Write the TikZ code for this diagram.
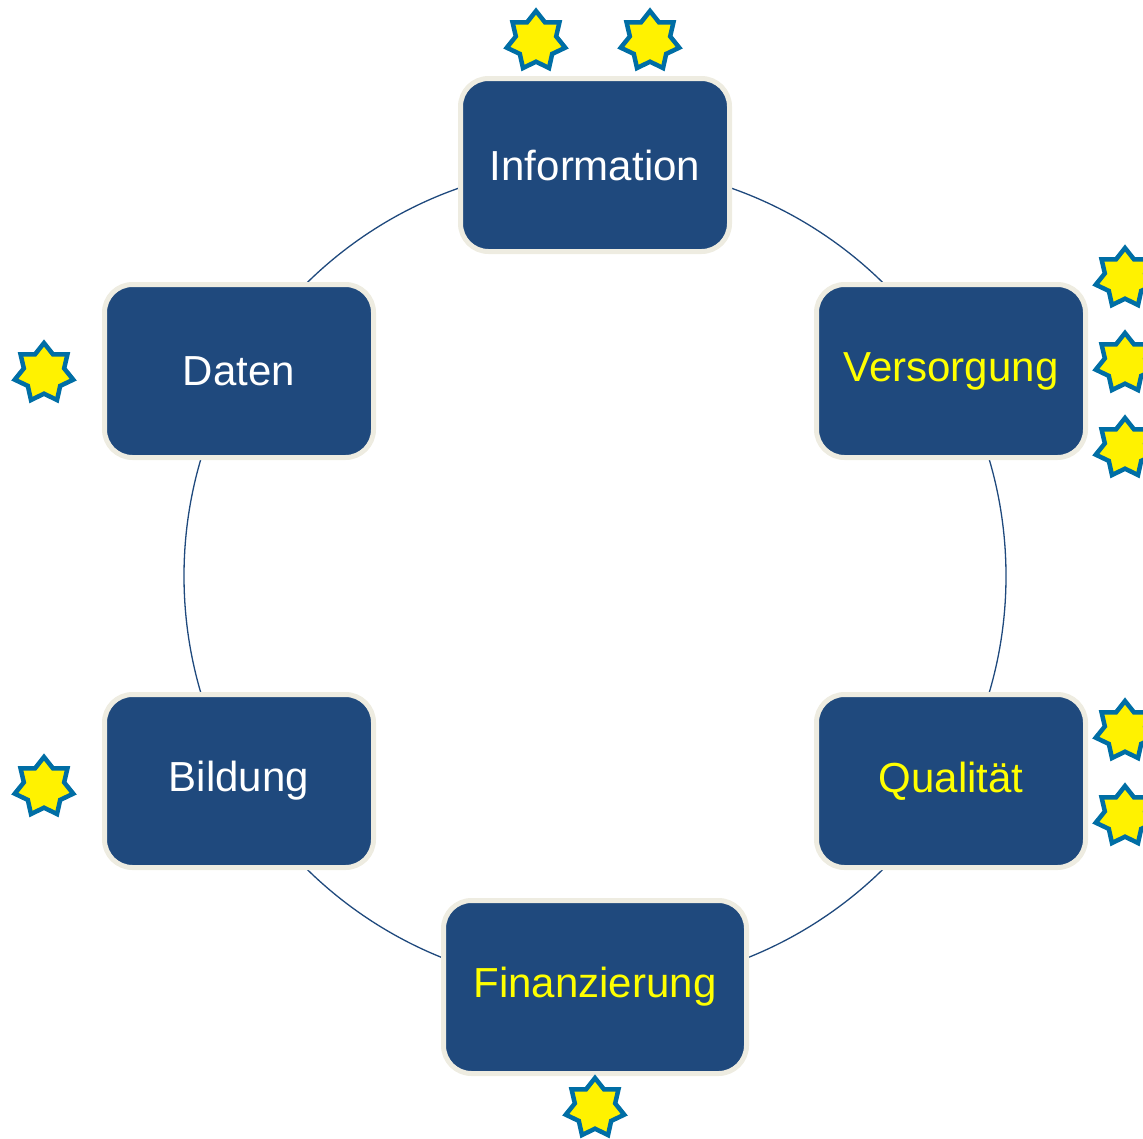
\documentclass[tikz,border=0pt]{standalone}
\usepackage{fontspec}
\setmainfont{Liberation Sans}
\usetikzlibrary{shapes.geometric}
\definecolor{boxblue}{RGB}{31,73,125}
\definecolor{boxrim}{RGB}{238,236,225}
\definecolor{starrim}{RGB}{0,110,165}
\definecolor{txtyellow}{RGB}{255,255,0}
\tikzset{
  topic/.style={rectangle, rounded corners=28pt, draw=boxrim, line width=5pt,
    fill=boxblue, minimum width=269pt, minimum height=173pt, inner sep=0pt,
    font=\fontsize{42}{50}\selectfont},
  whitetxt/.style={text=white},
  yellowtxt/.style={text=txtyellow},
  badge/.style={star, star points=7, star point ratio=1.45, draw=starrim,
    line width=4.5pt, fill=yellow, minimum size=60pt, inner sep=0pt},
  ring/.style={draw=boxblue, line width=1.3pt}
}
\begin{document}
\begin{tikzpicture}[x=1pt,y=-1pt]
\useasboundingbox (0,0) rectangle (1143,1138);
\coordinate (ctr) at (595,576);
\draw[ring] (ctr) circle[radius=411pt];
\node[topic, whitetxt] (info) at (595,165) {Information};
\node[topic, whitetxt] (daten) at (239,371) {Daten};
\node[topic, yellowtxt] (vers) at (951,371) {Versorgung};
\node[topic, whitetxt] (bild) at (239,781) {Bildung};
\node[topic, yellowtxt] (qual) at (951,781) {Qualität};
\node[topic, yellowtxt, minimum width=303pt] (fin) at (595,987) {Finanzierung};
\node[badge] (s1) at (536,41) {};
\node[badge] (s2) at (650,41) {};
\node[badge] (s3) at (1125,278) {};
\node[badge] (s4) at (1125,363) {};
\node[badge] (s5) at (1125,448) {};
\node[badge] (s6) at (44,373) {};
\node[badge] (s7) at (1125,731) {};
\node[badge] (s8) at (1125,816) {};
\node[badge] (s9) at (44,787) {};
\node[badge] (s10) at (595,1108) {};
\end{tikzpicture}
\end{document}
